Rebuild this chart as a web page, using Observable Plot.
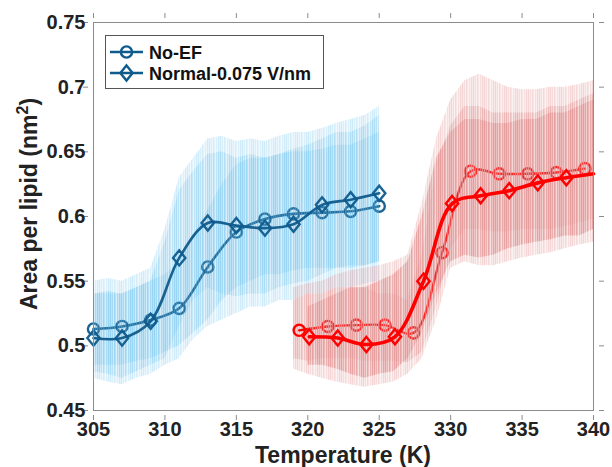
<!DOCTYPE html>
<html><head><meta charset="utf-8">
<script src="https://cdn.jsdelivr.net/npm/d3@7"></script>
<script src="https://cdn.jsdelivr.net/npm/@observablehq/plot@0.6"></script>
<style>
html,body{margin:0;padding:0;background:#fff;}
#chart{position:relative;width:612px;height:467px;overflow:hidden;}
</style></head><body><div id="chart"></div>
<script>
// ---- axis ticks ----
const xTicks = [305, 310, 315, 320, 325, 330, 335, 340];
const yTicks = [0.45, 0.5, 0.55, 0.6, 0.65, 0.7, 0.75];
const yTickLabels = ["0.45", "0.5", "0.55", "0.6", "0.65", "0.7", "0.75"];
const seriesNames = ["No-EF", "Normal-0.075 V/nm"];

// ---- blue group (lower transition) ----
const blueNoEF_T = [305, 307, 309, 311, 313, 315, 317, 319, 321, 323, 325];
const blueNoEF_A = [0.513, 0.515, 0.520, 0.529, 0.561, 0.588, 0.598, 0.602, 0.603, 0.604, 0.608];
const blueNormal_T = [305, 307, 309, 311, 313, 315, 317, 319, 321, 323, 325];
const blueNormal_A = [0.506, 0.506, 0.519, 0.568, 0.595, 0.593, 0.591, 0.594, 0.609, 0.613, 0.618];

// raw-fluctuation envelopes
const blueNoiseT = [305,306,307,308,309,310,311,312,313,314,315,316,317,318,319,320,321,322,323,324,325];
const blueOuterLo = [0.475,0.472,0.470,0.475,0.478,0.485,0.490,0.505,0.515,0.520,0.525,0.530,0.530,0.535,0.535,0.540,0.540,0.545,0.545,0.548,0.550];
const blueOuterHi = [0.550,0.552,0.550,0.555,0.560,0.590,0.630,0.645,0.660,0.662,0.658,0.660,0.658,0.662,0.665,0.665,0.668,0.672,0.675,0.678,0.685];
const blueNoEFLo = [0.485,0.485,0.485,0.488,0.490,0.495,0.500,0.510,0.520,0.535,0.545,0.550,0.555,0.555,0.558,0.560,0.560,0.560,0.562,0.562,0.565];
const blueNoEFHi = [0.540,0.542,0.540,0.545,0.550,0.555,0.565,0.585,0.605,0.625,0.640,0.645,0.645,0.648,0.650,0.650,0.652,0.655,0.655,0.660,0.665];
const blueNormalLo = [0.480,0.478,0.475,0.480,0.485,0.490,0.515,0.535,0.545,0.540,0.538,0.540,0.540,0.545,0.548,0.550,0.555,0.560,0.560,0.562,0.565];
const blueNormalHi = [0.540,0.540,0.540,0.545,0.550,0.580,0.620,0.635,0.648,0.650,0.645,0.648,0.645,0.648,0.652,0.655,0.660,0.665,0.665,0.670,0.678];

// ---- red group (higher transition) ----
const redNoEF_T = [319.4, 321.4, 323.4, 325.4, 327.4, 329.4, 331.4, 333.4, 335.4, 337.4, 339.4];
const redNoEF_A = [0.512, 0.515, 0.516, 0.516, 0.510, 0.572, 0.635, 0.633, 0.633, 0.634, 0.637];
const redNormal_T = [320.1, 322.1, 324.1, 326.1, 328.1, 330.1, 332.1, 334.1, 336.1, 338.1];
const redNormal_A = [0.507, 0.506, 0.501, 0.507, 0.550, 0.610, 0.616, 0.620, 0.626, 0.630];
const redNormalTailT = [340];
const redNormalTailA = [0.633];

const redNoiseT = [319,320,321,322,323,324,325,326,327,328,329,330,331,332,333,334,335,336,337,338,339,340];
const redOuterLo = [0.482,0.478,0.475,0.472,0.470,0.468,0.470,0.472,0.478,0.490,0.520,0.560,0.565,0.562,0.562,0.565,0.568,0.570,0.572,0.575,0.578,0.580];
const redOuterHi = [0.545,0.548,0.550,0.555,0.558,0.560,0.562,0.565,0.570,0.610,0.660,0.690,0.705,0.710,0.705,0.700,0.698,0.698,0.700,0.700,0.702,0.705];
const redNoEFLo = [0.490,0.488,0.490,0.490,0.490,0.488,0.488,0.488,0.487,0.495,0.530,0.575,0.590,0.590,0.588,0.588,0.590,0.590,0.590,0.592,0.595,0.598];
const redNoEFHi = [0.535,0.540,0.540,0.545,0.545,0.545,0.540,0.540,0.535,0.570,0.640,0.670,0.685,0.685,0.680,0.680,0.680,0.680,0.685,0.685,0.690,0.695];
const redNormalNoiseT = [320,321,322,323,324,325,326,327,328,329,330,331,332,333,334,335,336,337,338,339,340];
const redNormalLo = [0.485,0.485,0.482,0.478,0.475,0.478,0.480,0.490,0.510,0.540,0.565,0.570,0.568,0.570,0.575,0.578,0.580,0.582,0.585,0.585,0.590];
const redNormalHi = [0.530,0.535,0.540,0.545,0.545,0.550,0.555,0.565,0.600,0.645,0.665,0.675,0.675,0.672,0.672,0.675,0.675,0.680,0.680,0.685,0.690];

// ---- helpers ----
const pts = (T, A) => T.map((t, i) => ({t, a: A[i]}));
const band = (T, lo, hi) => T.map((t, i) => ({t, lo: lo[i], hi: hi[i]}));

const diamondSym = {
  draw(ctx, size) {
    const r = Math.sqrt(size / Math.PI);
    const h = r * 1.35, w = r * 1.1;
    ctx.moveTo(0, -h); ctx.lineTo(w, 0); ctx.lineTo(0, h); ctx.lineTo(-w, 0); ctx.closePath();
  }
};

const BLUE = "#0f5b8c";
const RED = "#ff0000";
const FONT = "'Liberation Sans', Arial, Helvetica, sans-serif";

function seriesMarks(data, color, symbol, lw, opacity = 1) {
  return [
    Plot.line(data, {x: "t", y: "a", stroke: color, strokeWidth: lw, curve: "catmull-rom", strokeOpacity: opacity}),
    Plot.dot(data, {x: "t", y: "a", stroke: color, fill: "none", strokeWidth: 2.4, r: 5.6, symbol: symbol === "circle" ? "circle" : diamondSym, strokeOpacity: opacity})
  ];
}
const bandMark = (rows, pattern, op) =>
  Plot.areaY(rows, {x: "t", y1: "lo", y2: "hi", fill: `url(#${pattern})`, fillOpacity: op});

const redNormalCurve = pts(redNormal_T.concat(redNormalTailT), redNormal_A.concat(redNormalTailA));

const chart = Plot.plot({
  width: 612,
  height: 467,
  marginLeft: 93,
  marginRight: 19,
  marginTop: 22,
  marginBottom: 57,
  style: {fontFamily: FONT, background: "#fff"},
  x: {domain: [305, 340], label: null},
  y: {domain: [0.45, 0.75], label: null},
  marks: [
    // blue group
    bandMark(band(blueNoiseT, blueOuterLo, blueOuterHi), "noiseBlue", 0.4),
    bandMark(band(blueNoiseT, blueNoEFLo, blueNoEFHi), "noiseBlue", 0.5),
    ...seriesMarks(pts(blueNoEF_T, blueNoEF_A), BLUE, "circle", 2.6, 0.95),
    bandMark(band(blueNoiseT, blueNormalLo, blueNormalHi), "noiseBlue", 0.45),
    ...seriesMarks(pts(blueNormal_T, blueNormal_A), BLUE, "diamond", 2.6, 0.95),
    // red group
    bandMark(band(redNoiseT, redOuterLo, redOuterHi), "noiseRed", 0.45),
    bandMark(band(redNoiseT, redNoEFLo, redNoEFHi), "noiseRed", 0.55),
    ...seriesMarks(pts(redNoEF_T, redNoEF_A), RED, "circle", 2.4, 1),
    bandMark(band(redNormalNoiseT, redNormalLo, redNormalHi), "noiseRed", 0.92),
    Plot.line(redNormalCurve, {x: "t", y: "a", stroke: RED, strokeWidth: 3.6, curve: "catmull-rom"}),
    Plot.dot(pts(redNormal_T, redNormal_A), {x: "t", y: "a", stroke: RED, fill: "none", strokeWidth: 2.4, r: 5.6, symbol: diamondSym}),
    // box and inward ticks
    Plot.frame({stroke: "#8c8c8c", strokeWidth: 1}),
    Plot.axisX({anchor: "bottom", ticks: xTicks, tickSize: 5, inset: -5, tickFormat: () => "", stroke: "#8c8c8c", label: null}),
    Plot.axisX({anchor: "top", ticks: xTicks, tickSize: 5, inset: -5, tickFormat: () => "", stroke: "#8c8c8c", label: null}),
    Plot.axisY({anchor: "left", ticks: yTicks, tickSize: 5, inset: -5, tickFormat: () => "", stroke: "#8c8c8c", label: null}),
    Plot.axisY({anchor: "right", ticks: yTicks, tickSize: 5, inset: -5, tickFormat: () => "", stroke: "#8c8c8c", label: null}),
    // tick labels
    Plot.axisX({anchor: "bottom", ticks: xTicks, tickSize: 0, tickPadding: 11.5, tickFormat: d => String(d), fontSize: 20, fontWeight: "bold", fill: "#222", label: null}),
    Plot.axisY({anchor: "left", ticks: yTicks, tickSize: 0, tickPadding: 8, tickFormat: d => yTickLabels[yTicks.indexOf(d)], fontSize: 20, fontWeight: "bold", fill: "#222", label: null})
  ]
});

document.getElementById("chart").appendChild(chart);

const svg = d3.select(chart);

// streaky texture for the fluctuation bands (pure styling)
const defs = svg.insert("defs", ":first-child");
const stripeOpacity = [0.95, 0.45, 0.75, 0.3, 0.85, 0.55, 0.25, 0.7, 0.4, 0.9, 0.5];
[["noiseBlue", "#7fc9ef"], ["noiseRed", "#e49a9a"]].forEach(([id, col]) => {
  const p = defs.append("pattern").attr("id", id).attr("patternUnits", "userSpaceOnUse")
    .attr("width", stripeOpacity.length).attr("height", 20);
  stripeOpacity.forEach((o, i) => {
    p.append("rect").attr("x", i).attr("y", 0).attr("width", 1).attr("height", 20)
      .attr("fill", col).attr("fill-opacity", o);
  });
});

// ---- axis titles and legend ----
svg.append("text")
  .attr("x", 343).attr("y", 463)
  .attr("text-anchor", "middle")
  .attr("font-family", FONT).attr("font-weight", "bold").attr("font-size", 23).attr("fill", "#222")
  .text("Temperature (K)");

const yl = svg.append("text")
  .attr("transform", "translate(37,204) rotate(-90)")
  .attr("text-anchor", "middle")
  .attr("font-family", FONT).attr("font-weight", "bold").attr("font-size", 23).attr("fill", "#222");
yl.append("tspan").text("Area per lipid (nm");
yl.append("tspan").attr("dy", -9).attr("font-size", 16).text("2");
yl.append("tspan").attr("dy", 9).text(")");

const lg = svg.append("g");
lg.append("rect").attr("x", 105.5).attr("y", 35.5).attr("width", 218).attr("height", 53)
  .attr("fill", "#fff").attr("stroke", "#555").attr("stroke-width", 1);
const legendSymbols = [d3.symbolCircle, diamondSym];
seriesNames.forEach((name, i) => {
  const cy = 52 + i * 21;
  lg.append("line").attr("x1", 110).attr("x2", 143).attr("y1", cy).attr("y2", cy)
    .attr("stroke", BLUE).attr("stroke-width", 2.6);
  lg.append("path").attr("d", d3.symbol(legendSymbols[i], Math.PI * 5.6 * 5.6)())
    .attr("transform", `translate(126.5,${cy})`)
    .attr("fill", "none").attr("stroke", BLUE).attr("stroke-width", 2.4);
  lg.append("text").attr("x", 149).attr("y", cy + 6.5)
    .attr("text-anchor", "start")
    .attr("font-family", FONT).attr("font-weight", "bold").attr("font-size", 18).attr("fill", "#111")
    .text(name);
});
</script></body></html>
